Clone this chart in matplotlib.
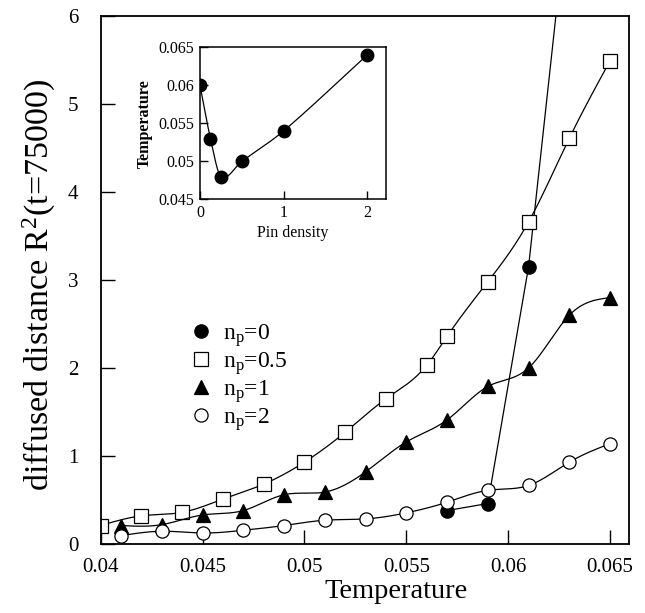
import numpy as np
import matplotlib
matplotlib.use("Agg")
import matplotlib.pyplot as plt

plt.rcParams['font.family'] = ['Liberation Serif', 'DejaVu Serif']
plt.rcParams['mathtext.fontset'] = 'custom'
plt.rcParams['mathtext.rm'] = 'Liberation Serif'
plt.rcParams['mathtext.it'] = 'Liberation Serif:italic'
plt.rcParams['mathtext.default'] = 'rm'

# ---------------- data ----------------
t_np0 = [0.057, 0.059, 0.061, 0.063]
r_np0 = [0.38, 0.46, 3.15, 7.4]

t_np05 = [0.040, 0.042, 0.044, 0.046, 0.048, 0.050, 0.052, 0.054, 0.056, 0.057, 0.059, 0.061, 0.063, 0.065]
r_np05 = [0.21, 0.32, 0.36, 0.51, 0.68, 0.93, 1.27, 1.65, 2.03, 2.36, 2.98, 3.66, 4.61, 5.49]

t_np1 = [0.041, 0.043, 0.045, 0.047, 0.049, 0.051, 0.053, 0.055, 0.057, 0.059, 0.061, 0.063, 0.065]
r_np1 = [0.21, 0.22, 0.33, 0.38, 0.56, 0.59, 0.82, 1.16, 1.41, 1.79, 2.00, 2.60, 2.80]

t_np2 = [0.041, 0.043, 0.045, 0.047, 0.049, 0.051, 0.053, 0.055, 0.057, 0.059, 0.061, 0.063, 0.065]
r_np2 = [0.095, 0.145, 0.125, 0.156, 0.21, 0.27, 0.285, 0.354, 0.475, 0.61, 0.665, 0.93, 1.14]

pin_density = [0.0, 0.125, 0.25, 0.5, 1.0, 2.0]
pin_temp = [0.060, 0.053, 0.048, 0.050, 0.054, 0.064]

labels = ['n$_p$=0', 'n$_p$=0.5', 'n$_p$=1', 'n$_p$=2']
x_ticks = [0.04, 0.045, 0.05, 0.055, 0.06, 0.065]
x_ticklabels = ['0.04', '0.045', '0.05', '0.055', '0.06', '0.065']
y_ticks = [0, 1, 2, 3, 4, 5, 6]
in_xticks = [0, 1, 2]
in_yticks = [0.045, 0.05, 0.055, 0.06, 0.065]
in_yticklabels = ['0.045', '0.05', '0.055', '0.06', '0.065']


def natural_spline(x, y, n=300):
    x = np.asarray(x, float)
    y = np.asarray(y, float)
    m = len(x)
    h = np.diff(x)
    A = np.zeros((m, m))
    b = np.zeros(m)
    A[0, 0] = 1
    A[-1, -1] = 1
    for i in range(1, m - 1):
        A[i, i - 1] = h[i - 1]
        A[i, i] = 2 * (h[i - 1] + h[i])
        A[i, i + 1] = h[i]
        b[i] = 6 * ((y[i + 1] - y[i]) / h[i] - (y[i] - y[i - 1]) / h[i - 1])
    M = np.linalg.solve(A, b)
    xs = np.linspace(x[0], x[-1], n)
    idx = np.clip(np.searchsorted(x, xs) - 1, 0, m - 2)
    x0, x1 = x[idx], x[idx + 1]
    hh = x1 - x0
    ys = (M[idx] * (x1 - xs) ** 3 / (6 * hh) + M[idx + 1] * (xs - x0) ** 3 / (6 * hh)
          + (y[idx] / hh - M[idx] * hh / 6) * (x1 - xs)
          + (y[idx + 1] / hh - M[idx + 1] * hh / 6) * (xs - x0))
    return xs, ys


def hermite_fd(x, y, n=400):
    """Cubic Hermite curve with finite-difference (Catmull-Rom like) tangents."""
    x = np.asarray(x, float)
    y = np.asarray(y, float)
    m = len(x)
    d = np.zeros(m)
    d[0] = (y[1] - y[0]) / (x[1] - x[0])
    d[-1] = (y[-1] - y[-2]) / (x[-1] - x[-2])
    for i in range(1, m - 1):
        d[i] = (y[i + 1] - y[i - 1]) / (x[i + 1] - x[i - 1])
    xs = np.linspace(x[0], x[-1], n)
    idx = np.clip(np.searchsorted(x, xs) - 1, 0, m - 2)
    h = x[idx + 1] - x[idx]
    t = (xs - x[idx]) / h
    h00 = 2 * t ** 3 - 3 * t ** 2 + 1
    h10 = t ** 3 - 2 * t ** 2 + t
    h01 = -2 * t ** 3 + 3 * t ** 2
    h11 = t ** 3 - t ** 2
    ys = h00 * y[idx] + h10 * h * d[idx] + h01 * y[idx + 1] + h11 * h * d[idx + 1]
    return xs, ys


W, H = 645, 613
fig = plt.figure(figsize=(W / 100, H / 100), dpi=100)
ax = fig.add_axes([100.7 / W, (H - 544) / H, 528.3 / W, 528 / H])

lw = 0.9
ms = 9.5
# n_p = 0 : straight segments
ax.plot(t_np0, r_np0, '-', color='black', lw=lw)
ax.plot(t_np0, r_np0, 'o', color='black', ms=ms, ls='none', label=labels[0])

for t, r, mk, fc, lab in [(t_np05, r_np05, 's', 'white', labels[1]),
                          (t_np1, r_np1, '^', 'black', labels[2]),
                          (t_np2, r_np2, 'o', 'white', labels[3])]:
    xs, ys = natural_spline(t, r)
    ax.plot(xs, ys, '-', color='black', lw=lw)
    ax.plot(t, r, mk, ls='none', mfc=fc, mec='black', mew=0.9, ms=ms, label=lab)

ax.set_xlim(0.04, 0.06593)
ax.set_ylim(0, 6)
ax.set_xticks(x_ticks)
ax.set_xticklabels(x_ticklabels)
ax.set_yticks(y_ticks)
ax.tick_params(direction='in', length=10, width=1, labelsize=15,
               top=False, right=False)
ax.tick_params(axis='x', pad=10)
ax.tick_params(axis='y', pad=16)
for s in ax.spines.values():
    s.set_linewidth(1.3)
ax.set_xlabel('Temperature', fontsize=20.5)
ax.set_ylabel('diffused distance R$^2$(t=75000)', fontsize=24.5)
ax.xaxis.set_label_coords(0.56, -0.066)
ax.yaxis.set_label_coords(-0.08, 0.49)

leg = ax.legend(loc='upper left', bbox_to_anchor=(0.146, 0.438), frameon=False,
                fontsize=17, handletextpad=0.3, labelspacing=0.05,
                handlelength=1.2, borderaxespad=0)

# ---------------- inset ----------------
ins = fig.add_axes([200 / W, (H - 199.3) / H, 186 / W, 152 / H])
xs, ys = hermite_fd(pin_density, pin_temp)
ins.plot(xs, ys, '-', color='black', lw=lw)
ins.plot(pin_density, pin_temp, 'o', color='black', ms=9, ls='none')
ins.set_xlim(0, 2.224)
ins.set_ylim(0.045, 0.065)
ins.set_xticks(in_xticks)
ins.set_yticks(in_yticks)
ins.set_yticklabels(in_yticklabels)
ins.tick_params(direction='in', length=6, width=1, labelsize=11.5, pad=4,
                top=False, right=False)
for s in ins.spines.values():
    s.set_linewidth(1.1)
ins.set_xlabel('Pin density', fontsize=11.5, labelpad=3)
ins.set_ylabel('Temperature', fontsize=11.5, fontweight='bold', labelpad=4)

fig.savefig('out.png', dpi=100)
